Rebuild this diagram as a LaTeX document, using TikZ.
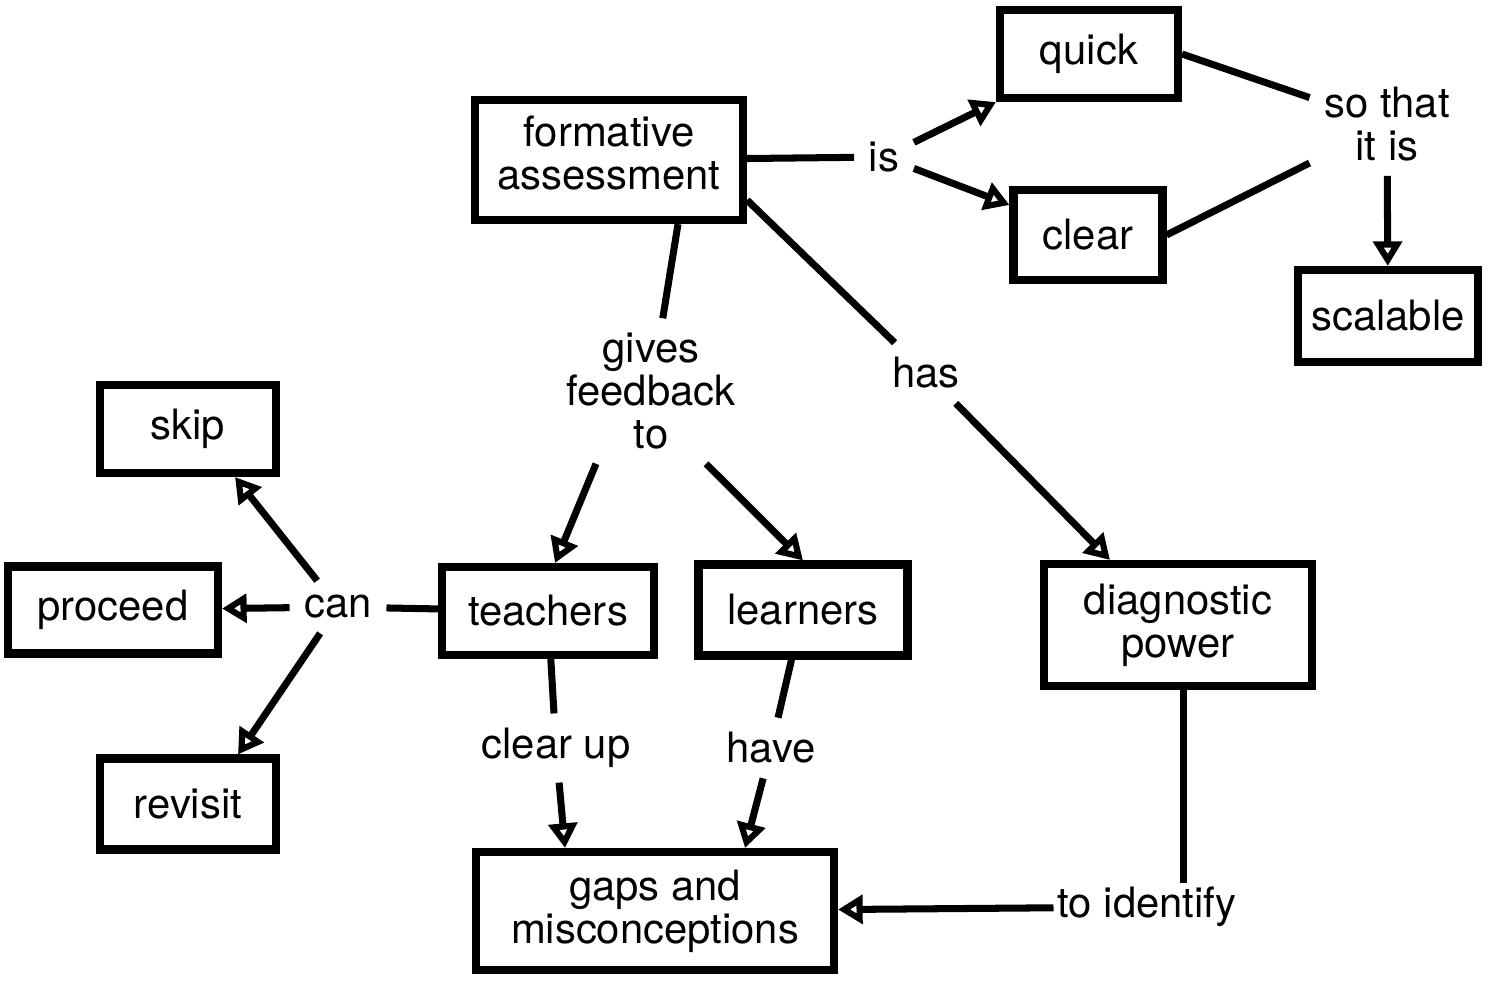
\documentclass[tikz,border=0pt]{standalone}
\usepackage{fontspec}
\setmainfont{TeX Gyre Heros}
\usetikzlibrary{arrows.meta, positioning}

\begin{document}
\begin{tikzpicture}[
    box/.style={draw, line width=2.3pt, align=center, inner sep=2pt},
    lbl/.style={align=center, inner sep=4pt},
    link/.style={line width=2pt},
    arr/.style={line width=2pt, -{Triangle[open, length=7pt, width=8pt]}},
    every node/.style={font=\fontsize{11.9}{12.2}\selectfont}
  ]
    \useasboundingbox (0, 0) rectangle (15.1, -10.06);

    % Concepts
    \node[box, minimum width=2.68cm, minimum height=1.2cm] (formative) at (6.09, -1.60) {formative\\assessment\\[-8pt]};
    \node[box, minimum width=1.78cm, minimum height=0.88cm] (quick) at (10.89, -0.54) {quick};
    \node[box, minimum width=1.49cm, minimum height=0.9cm] (clear) at (10.88, -2.35) {clear};
    \node[box, minimum width=1.8cm, minimum height=0.92cm] (scalable) at (13.88, -3.16) {scalable};
    \node[box, minimum width=1.76cm, minimum height=0.88cm] (skip) at (1.88, -4.29) {skip};
    \node[box, minimum width=2.1cm, minimum height=0.87cm] (proceed) at (1.13, -6.10) {proceed};
    \node[box, minimum width=1.76cm, minimum height=0.91cm] (revisit) at (1.88, -8.04) {revisit};
    \node[box, minimum width=2.12cm, minimum height=0.88cm] (teachers) at (5.48, -6.11) {teachers};
    \node[box, minimum width=2.09cm, minimum height=0.91cm] (learners) at (8.03, -6.10) {learners};
    \node[box, minimum width=2.68cm, minimum height=1.22cm] (diag) at (11.78, -6.25) {diagnostic\\power};
    \node[box, minimum width=3.58cm, minimum height=1.18cm] (gaps) at (6.55, -9.11) {gaps and\\misconceptions};

    % Link phrases
    \node[lbl] (is) at (8.84, -1.57) {is};
    \node[lbl] (sothat) at (13.87, -1.24) {so that\\it is};
    \node[lbl] (gives) at (6.51, -3.91) {gives\\feedback\\to};
    \node[lbl] (has) at (9.26, -3.73) {has};
    \node[lbl] (can) at (3.38, -6.07) {can};
    \node[lbl] (clearup) at (5.56, -7.48) {clear up};
    \node[lbl] (have) at (7.71, -7.48) {have};
    \node[lbl, inner sep=1pt] (toid) at (11.47, -9.07) {to identify};

    % Lines
    \draw[link] (formative) -- (is);
    \draw[link] (quick.east) -- (sothat);
    \draw[link] (clear.east) -- (sothat);
    \draw[link] ([xshift=0.69cm]formative.south) -- (gives);
    \draw[link] ([yshift=0.24cm]formative.south east) -- (has);
    \draw[link] (teachers) -- (can);
    \draw[link] (teachers) -- (clearup);
    \draw[link] (learners) -- (have);
    \draw[link] ([xshift=0.05cm, yshift=0.08cm]diag.south) -- ([xshift=0.05cm]diag.south |- toid.north);

    % Arrows
    \draw[arr] (is) -- (quick.south west);
    \draw[arr] (is) -- (clear);
    \draw[arr] (sothat) -- (scalable);
    \draw[arr] ([xshift=-0.55cm]gives.south) -- ([xshift=0.07cm]teachers.north);
    \draw[arr] ([xshift=0.55cm]gives.south) -- (learners.north);
    \draw[arr] (has) -- ([xshift=-0.68cm]diag.north);
    \draw[arr] (can) -- ([xshift=0.47cm]skip.south);
    \draw[arr] (can) -- (proceed);
    \draw[arr] (can) -- ([xshift=0.5cm]revisit.north);
    \draw[arr] (clearup) -- ([xshift=-0.9cm]gaps.north);
    \draw[arr] (have) -- ([xshift=0.9cm]gaps.north);
    \draw[arr] (toid) -- (gaps);
\end{tikzpicture}
\end{document}
